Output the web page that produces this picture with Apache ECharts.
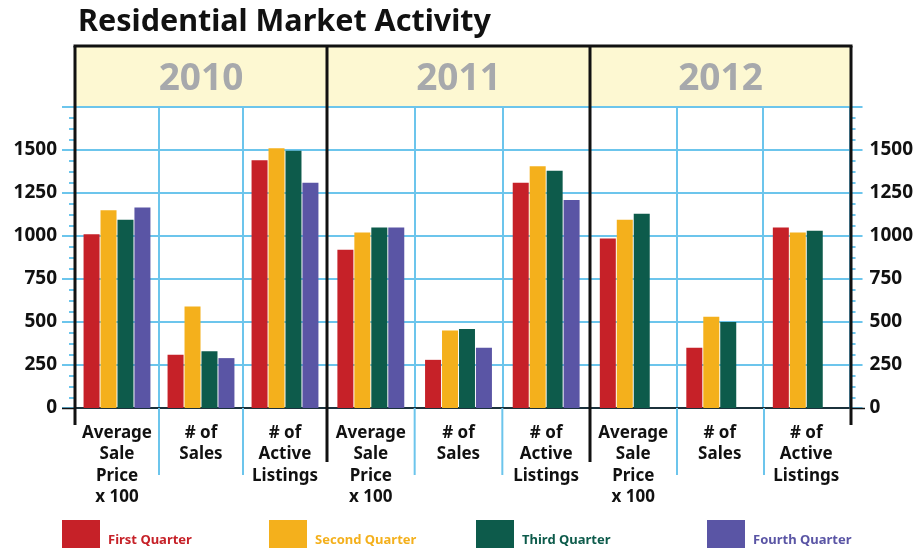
<!DOCTYPE html>
<html>
<head>
<meta charset="utf-8">
<script src="https://cdn.jsdelivr.net/npm/echarts@6/dist/echarts.min.js"></script>
<style>
  html, body { margin: 0; padding: 0; background: #fff; }
  #chart { width: 916px; height: 550px; }
</style>
</head>
<body>
<div id="chart"></div>
<script>
// data
const years = ['2010', '2011', '2012'];
const categories = ['Average\nSale\nPrice\nx 100', '# of\nSales', '# of\nActive\nListings'];
const quarterNames = ['First Quarter', 'Second Quarter', 'Third Quarter', 'Fourth Quarter'];
// order: 2010 (avg, sales, listings), 2011 (...), 2012 (...)
const firstQuarter = [1010, 310, 1440, 920, 280, 1310, 985, 350, 1050];
const secondQuarter = [1150, 590, 1510, 1020, 450, 1405, 1095, 530, 1020];
const thirdQuarter = [1095, 330, 1495, 1050, 460, 1380, 1130, 500, 1030];
const fourthQuarter = [1165, 290, 1310, 1050, 350, 1210, null, null, null];
const yMax = 1750;
const yStep = 250;

const colors = ['#c62128', '#f4b01c', '#0d5b4b', '#5a55a5'];
const quarters = [firstQuarter, secondQuarter, thirdQuarter, fourthQuarter];

// layout
const sectionX = [75, 327, 590, 851];
const bandTop = 46;
const plotTop = 107;
const zeroY = 408;
const blue = '#6cc5ec';
const font = 'Noto Sans';

let chart = echarts.init(document.getElementById('chart'));

let grids = [], xAxes = [], yAxes = [], series = [], graphics = [];

years.forEach((yr, g) => {
    grids.push({
        left: sectionX[g],
        width: sectionX[g + 1] - sectionX[g],
        top: plotTop,
        height: zeroY - plotTop
    });
    xAxes.push({
        type: 'category',
        gridIndex: g,
        data: categories,
        axisLine: { lineStyle: { color: '#000', width: 1.5 } },
        axisTick: { show: false },
        axisLabel: {
            interval: 0,
            margin: 14,
            color: '#111',
            fontFamily: font,
            fontWeight: 'bold',
            fontSize: 17,
            lineHeight: 21.5
        },
        splitLine: { show: true, lineStyle: { color: blue, width: 2 } }
    });
    let side = g === 0 ? 'left' : 'right';
    let showLabels = g !== 1;
    yAxes.push({
        type: 'value',
        gridIndex: g,
        position: side,
        min: 0,
        max: yMax,
        interval: yStep,
        axisLine: { show: false },
        axisTick: { show: showLabels, length: 13, lineStyle: { color: blue, width: 2 } },
        minorTick: { show: showLabels, splitNumber: 4, length: 6, lineStyle: { color: blue, width: 2 } },
        axisLabel: {
            show: showLabels,
            margin: g === 0 ? 18 : 20,
            color: '#111',
            fontFamily: font,
            fontWeight: 'bold',
            fontSize: 19,
            formatter: v => (v >= yMax ? '' : v)
        },
        splitLine: { lineStyle: { color: blue, width: 2 } }
    });
    quarters.forEach((q, i) => {
        series.push({
            name: quarterNames[i],
            type: 'bar',
            xAxisIndex: g,
            yAxisIndex: g,
            barWidth: 16,
            barGap: '6%',
            itemStyle: { color: colors[i] },
            data: q.slice(g * 3, g * 3 + 3)
        });
    });

    // year band text
    graphics.push({
        type: 'text',
        x: (sectionX[g] + sectionX[g + 1]) / 2,
        y: (bandTop + plotTop) / 2 + 3,
        z: 10,
        style: {
            text: yr,
            fill: '#a7a9ac',
            font: 'bold 37px "Noto Sans"',
            textAlign: 'center',
            textVerticalAlign: 'middle'
        }
    });
    // blue category dividers run on below the axis
    let w = (sectionX[g + 1] - sectionX[g]) / 3;
    [1, 2].forEach(k => {
        graphics.push({
            type: 'line',
            z: 5,
            shape: { x1: sectionX[g] + k * w, y1: zeroY, x2: sectionX[g] + k * w, y2: 475 },
            style: { stroke: blue, lineWidth: 2 }
        });
    });
});

// yellow year band
graphics.push({
    type: 'rect',
    z: -1,
    shape: { x: sectionX[0], y: bandTop, width: sectionX[3] - sectionX[0], height: plotTop - bandTop },
    style: { fill: '#fdf8d2' }
});
// black frame
graphics.push({
    type: 'line',
    z: 20,
    shape: { x1: sectionX[0] - 1.5, y1: bandTop, x2: sectionX[3] + 1.5, y2: bandTop },
    style: { stroke: '#111', lineWidth: 3 }
});
sectionX.forEach((x, i) => {
    let bottom = (i === 0 || i === 3) ? 425 : 462;
    graphics.push({
        type: 'line',
        z: 20,
        shape: { x1: x, y1: bandTop, x2: x, y2: bottom },
        style: { stroke: '#111', lineWidth: 3 }
    });
});
// baseline stubs past the outer axes
[[62, sectionX[0]], [sectionX[3], 865]].forEach(([a, b]) => {
    graphics.push({
        type: 'line',
        z: 15,
        shape: { x1: a, y1: zeroY + 0.5, x2: b, y2: zeroY + 0.5 },
        style: { stroke: '#111', lineWidth: 1.5 }
    });
});

// legends, one per quarter
let legendLeft = [57, 264, 471, 702];
let legends = quarterNames.map((name, i) => ({
    data: [name],
    left: legendLeft[i],
    top: 515,
    icon: 'rect',
    itemWidth: 38,
    itemHeight: 28,
    selectedMode: false,
    formatter: '{t|{name}}',
    textStyle: {
        rich: {
            t: {
                color: colors[i],
                fontFamily: font,
                fontWeight: 'bold',
                fontSize: 13,
                padding: [12, 0, 0, 3]
            }
        }
    }
}));

let option = {
    animation: false,
    title: {
        text: 'Residential Market Activity',
        left: 73,
        top: 2,
        textStyle: { fontFamily: font, fontWeight: 'bold', fontSize: 30.5, color: '#111' }
    },
    legend: legends,
    grid: grids,
    xAxis: xAxes,
    yAxis: yAxes,
    series: series,
    graphic: graphics
};

chart.setOption(option);
</script>
</body>
</html>
